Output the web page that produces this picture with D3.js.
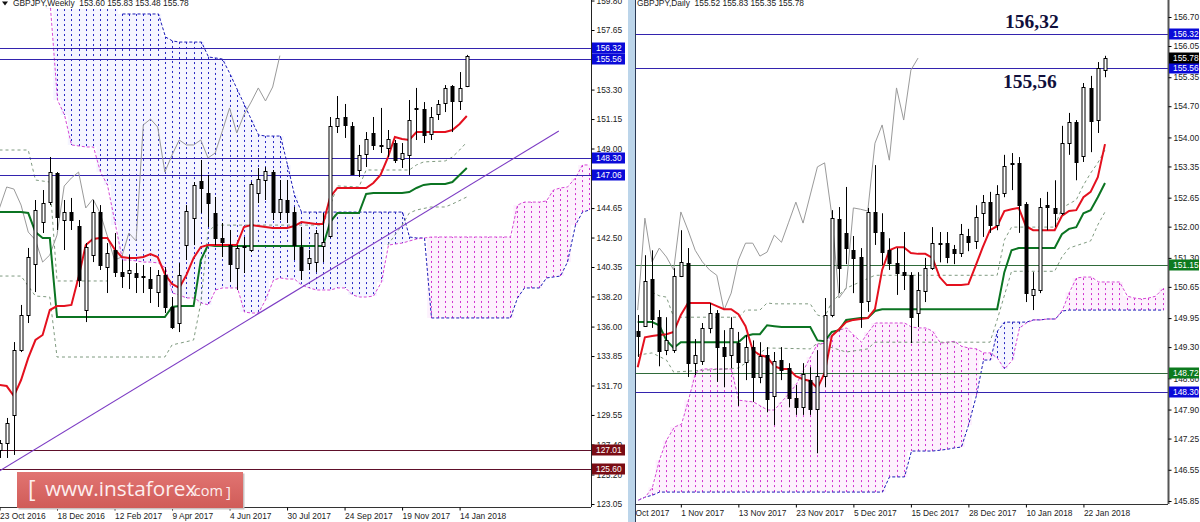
<!DOCTYPE html>
<html>
<head>
<meta charset="utf-8">
<script src="https://cdn.jsdelivr.net/npm/d3@7"></script>
<style>
  html, body { margin: 0; padding: 0; background: #fff; overflow: hidden; }
  svg { display: block; }
  text { font-family: "Liberation Sans", sans-serif; }
</style>
</head>
<body>
<div class="chart"></div>
<script>
// weekly candles
let weeklyOpen = [127.01,127.50,129.55,134.29,136.85,140.57,143.63,145.09,147.21,143.78,
  144.36,143.34,137.21,141.23,144.36,140.35,141.59,139.98,139.91,139.91,
  139.69,139.47,138.52,139.77,137.43,136.26,141.95,143.93,146.63,145.75,
  144.29,142.47,141.95,140.28,141.81,141.59,145.75,146.70,147.28,144.36,
  145.24,144.36,141.81,140.64,140.71,141.88,142.61,150.64,151.30,150.64,
  147.43,148.60,150.13,149.22,149.04,149.40,148.23,148.53,151.88,151.88,
  150.06,151.52,152.32,153.56,152.47,153.60];
let weeklyHigh = [127.72,129.33,134.87,137.58,141.74,145.24,145.97,148.38,147.28,145.24,
  145.39,143.78,142.10,145.24,144.87,142.10,142.83,140.86,141.23,140.64,
  140.50,140.35,140.13,140.35,138.16,140.64,144.87,146.55,148.16,147.07,
  145.46,143.56,143.05,141.95,142.54,146.55,147.58,147.65,147.43,146.70,
  146.70,144.73,143.27,141.59,143.05,144.29,151.30,152.83,152.25,150.93,
  149.26,150.20,151.30,151.96,150.35,149.62,149.40,152.54,153.42,152.39,
  152.03,152.54,153.63,153.63,154.58,155.83];
let weeklyLow = [126.41,126.41,126.63,134.14,136.26,138.52,142.83,144.87,143.05,141.59,
  143.05,138.89,136.33,140.71,140.13,138.45,139.62,138.82,138.74,138.45,
  138.45,137.72,137.43,136.99,135.82,135.60,140.86,141.95,144.29,143.27,
  141.95,141.08,139.25,138.67,139.91,141.44,145.02,145.24,143.78,143.78,
  143.56,140.86,139.40,140.13,139.98,140.71,142.47,150.13,149.77,147.07,
  146.92,147.65,148.89,148.67,148.38,147.94,147.58,147.07,149.62,149.40,
  149.62,151.08,151.66,150.20,151.81,153.48];
let weeklyClose = [127.50,128.96,134.29,136.85,141.08,144.51,145.02,147.28,144.00,144.36,
  143.78,139.40,141.81,144.36,140.50,141.37,139.98,139.69,140.13,139.62,
  139.65,138.82,139.77,137.43,135.97,139.77,144.44,146.33,146.12,145.02,
  142.47,142.17,140.57,141.74,141.88,146.41,146.77,147.36,144.36,145.31,
  144.36,141.95,140.13,141.01,142.83,142.17,150.64,151.23,150.72,147.14,
  148.53,149.69,149.26,149.15,149.69,148.16,148.67,151.08,151.96,149.99,
  151.30,152.25,153.42,152.47,153.42,155.78];

// weekly ichimoku
let weeklyTenkan = [131.74,131.66,130.93,132.10,133.71,135.02,135.39,137.21,137.50,137.50,
  137.58,139.62,141.95,142.39,142.47,142.47,141.66,141.08,141.01,141.01,
  141.08,141.30,141.08,139.84,139.11,138.82,139.77,141.01,141.81,141.95,
  141.95,141.95,141.95,141.95,143.27,143.41,143.34,143.27,143.20,143.20,
  143.20,143.34,143.63,143.56,143.49,143.49,145.46,146.12,146.12,146.12,
  146.12,146.12,146.48,147.07,148.31,149.84,149.69,149.62,150.20,150.20,
  150.20,150.20,150.20,150.35,150.79,151.37];
let weeklyKijun = [144.36,144.36,144.36,144.36,144.29,142.90,142.47,142.47,136.70,136.70,
  136.70,136.70,136.70,136.70,136.70,136.70,136.70,136.70,136.70,136.70,
  136.70,136.70,136.70,136.70,137.43,137.50,137.50,137.50,140.86,141.95,
  141.88,141.88,141.88,141.88,141.88,141.88,141.88,141.88,141.88,141.88,
  141.88,141.88,141.88,141.88,141.88,141.88,143.63,144.29,144.29,144.29,
  144.29,145.68,145.75,145.75,145.75,145.75,145.75,145.82,146.12,146.34,
  146.41,146.41,146.41,146.55,147.07,147.58];
let weeklyChikou = [144.66,146.19,146.04,144.87,142.90,142.32,140.71,141.23,142.68,146.26,
  146.85,147.28,144.66,145.31,144.29,142.61,140.86,141.08,142.83,142.25,
  150.72,151.15,150.57,147.28,148.53,149.62,149.26,149.26,149.62,148.31,
  148.67,150.28,151.96,150.13,151.45,152.39,153.42,152.47,153.49,155.78];
let weeklyCloudStart = 7;
let weeklySenkouA = [159.18,159.18,159.18,159.18,159.18,159.18,159.18,159.18,159.18,159.18,
  158.82,158.82,158.82,158.82,158.82,158.82,157.14,156.85,156.77,156.77,156.77,156.77,
  155.68,155.61,155.53,154.37,153.27,152.18,151.08,149.99,149.91,149.91,149.91,147.80,145.60,
  144.36,144.36,144.36,144.36,144.36,144.36,144.36,144.36,144.36,144.36,144.36,144.36,144.36,144.36,144.36,
  142.54,142.47,142.47,
  136.63,136.63,136.63,136.63,136.63,136.63,136.63,136.63,136.63,136.63,136.63,136.63,
  138.09,138.82,138.82,138.82,139.55,139.62,139.69,140.71,143.41,144.36,144.51];
let weeklySenkouB = [159.26,152.54,151.45,149.26,149.18,149.11,149.11,147.28,146.33,143.41,
  140.86,140.86,140.79,140.71,140.71,140.64,140.28,138.45,138.31,138.09,138.09,137.72,137.58,
  138.67,138.82,138.82,138.82,137.06,136.99,136.99,137.94,139.40,139.55,139.47,139.47,139.04,
  138.82,138.67,138.67,138.67,138.82,138.82,138.31,138.16,138.16,138.23,139.25,141.95,142.03,142.10,
  142.25,142.39,142.47,
  142.54,142.54,142.54,142.54,142.54,142.54,142.54,142.54,142.54,142.54,142.54,142.54,
  144.87,145.09,145.09,145.09,145.17,145.97,146.12,146.19,146.85,147.80,147.80];

// thin dashed lines, breakpoints only
let weeklyGuide1Idx = [0,4,5,7,8,15];
let weeklyGuide1Val = [148.89,148.89,146.70,146.55,139.33,139.33];
let weeklyGuide2Idx = [0,3,5,7,8,23,24,27,28,29,30,45,47,50,51,57,58,59,62,63,64,65];
let weeklyGuide2Val = [139.69,139.69,138.23,138.16,133.78,133.78,134.66,135.02,137.72,142.90,143.41,143.41,
  146.27,146.19,147.43,147.43,147.80,148.02,148.09,148.38,148.89,149.47];
let weeklyGuide3Idx = [54,56,57,58,60,62,63,65];
let weeklyGuide3Val = [141.95,143.41,144.29,144.51,144.73,144.73,144.95,145.46];

let weeklyTrendIdx = [0,77.8];
let weeklyTrendVal = [125.46,150.28];

let weeklyLevels = [156.32,155.56,148.30,147.06,127.01,125.60];
let weeklyLevelKinds = ["blue","blue","blue","blue","red","red"];
let weeklyYTicks = [159.80,157.65,153.30,151.15,149.00,144.65,142.50,140.35,138.20,136.00,133.85,131.70,129.55,127.40,125.20,123.05];
let weeklyXTicks = [0,8,16,24,32,40,48,56,64];
let weeklyXLabels = ["23 Oct 2016","18 Dec 2016","12 Feb 2017","9 Apr 2017","4 Jun 2017","30 Jul 2017","24 Sep 2017","19 Nov 2017","14 Jan 2018"];

// daily candles
let dailyOpen = [149.66,149.77,150.83,149.97,149.23,149.23,150.89,151.18,148.94,148.99,
  149.73,150.06,149.30,149.12,149.39,148.96,149.30,148.63,149.12,148.20,
  149.01,148.83,148.16,147.95,148.56,147.91,148.65,150.02,152.17,151.86,
  151.47,151.32,150.33,152.33,151.88,151.47,151.18,150.98,150.91,150.06,
  150.56,151.07,151.61,151.63,151.50,151.41,151.79,151.68,152.30,152.55,
  152.04,152.75,153.40,153.43,152.51,150.47,150.58,152.48,152.42,152.30,
  153.87,154.34,153.58,155.11,154.39,155.52];
let dailyHigh = [150.02,151.36,151.47,150.13,149.97,151.07,151.92,151.52,149.48,149.84,
  150.29,150.13,149.68,149.97,149.64,149.57,149.45,149.41,149.30,149.19,
  149.30,148.94,148.45,148.94,148.85,149.23,150.40,152.37,152.44,152.89,
  151.79,151.52,152.42,153.38,152.30,151.74,151.52,151.88,150.98,150.98,
  151.30,151.99,151.88,151.88,151.59,152.06,151.95,152.48,152.71,152.78,
  152.93,153.61,153.65,153.56,152.55,150.98,152.64,152.78,153.04,154.26,
  154.55,154.39,155.22,155.38,155.69,155.83];
let dailyLow = [149.08,149.75,149.73,148.87,149.12,149.17,150.87,148.63,148.67,148.90,
  149.61,148.52,148.40,148.83,147.98,148.56,148.07,148.49,147.84,147.55,
  148.56,147.95,147.78,147.78,147.78,146.92,148.40,149.97,150.51,151.16,
  150.51,149.73,150.09,151.59,151.14,151.03,150.47,150.58,149.39,149.75,
  150.31,151.03,151.20,151.18,151.16,151.32,151.45,151.50,151.77,151.86,
  151.92,152.66,152.82,151.86,150.31,150.13,150.51,151.92,151.99,152.26,
  153.61,153.04,153.45,153.67,154.10,155.35];
let dailyClose = [149.55,150.78,149.93,149.21,149.45,150.89,151.20,148.94,149.12,149.73,
  150.06,149.30,149.10,149.73,148.96,149.30,148.63,149.10,148.13,148.99,
  148.78,148.16,147.95,148.69,147.91,148.65,150.02,152.19,151.07,151.52,
  151.30,150.31,152.33,151.88,151.43,151.18,150.96,150.91,149.97,150.58,
  151.07,151.63,151.63,151.32,151.41,151.83,151.65,152.21,152.55,152.04,
  152.73,153.36,153.43,152.48,150.51,150.60,152.44,152.44,152.30,153.87,
  154.34,153.45,155.13,154.37,155.56,155.78];

// daily ichimoku
let dailyTenkan = [148.85,149.52,149.55,149.57,149.59,149.64,150.02,150.29,150.29,150.29,
  150.29,150.22,150.15,150.15,150.04,149.77,149.23,149.12,149.08,148.87,
  148.81,148.81,148.65,148.58,148.54,148.38,148.72,149.55,149.70,149.86,
  149.91,149.93,149.95,150.15,151.03,151.47,151.54,151.54,151.41,151.39,
  151.39,151.30,150.87,150.69,150.69,150.69,150.71,151.12,151.54,151.92,
  152.01,152.35,152.39,152.42,152.01,151.92,151.92,151.92,151.92,152.24,
  152.35,152.37,152.66,152.78,153.11,153.85];
let dailyKijun = [149.86,149.86,149.86,149.79,149.45,149.28,149.41,149.41,149.41,149.41,
  149.41,149.41,149.41,149.41,149.41,149.55,149.59,149.59,149.79,149.77,
  149.75,149.75,149.75,149.75,149.75,149.45,149.43,149.64,149.68,149.91,
  149.93,149.95,149.95,150.11,150.15,150.15,150.15,150.15,150.15,150.15,
  150.15,150.15,150.15,150.15,150.15,150.15,150.15,150.15,150.15,150.15,
  150.15,150.98,151.47,151.52,151.52,151.52,151.52,151.52,151.52,151.83,
  151.95,151.99,152.30,152.37,152.66,152.98];
let dailyChikou = [150.13,152.19,151.21,151.52,151.32,151.03,152.33,151.92,151.47,151.21,
  151.03,150.91,150.13,150.51,151.25,151.63,151.63,151.34,151.43,151.81,
  151.65,152.10,152.55,152.08,152.71,153.34,153.43,152.26,150.40,150.62,
  152.42,152.39,152.35,153.87,154.28,153.49,155.11,154.39,155.51,155.78];
let dailyCloudStart = 0;
let dailySenkouA = [145.87,145.94,145.98,146.05,146.05,146.05,146.05,146.05,146.05,146.05,
  146.05,146.05,146.05,146.05,146.05,146.05,146.05,146.05,146.05,146.05,
  146.05,146.05,146.05,146.05,146.05,146.05,146.05,146.05,146.05,146.05,
  146.05,146.05,146.05,146.05,146.05,146.39,146.39,146.39,146.97,146.97,
  146.97,146.97,146.99,147.01,147.04,147.06,147.55,148.22,149.01,149.01,
  149.66,149.86,149.86,149.86,149.86,149.91,149.91,149.93,149.93,150.11,
  150.13,150.13,150.13,150.13,150.13,150.13,150.13,150.13,150.13,150.13,
  150.13,150.13,150.13,150.13];
let dailySenkouB = [145.87,145.94,146.16,146.77,147.21,147.51,147.57,148.11,148.72,148.81,
  148.81,148.81,148.81,148.81,148.11,148.09,148.07,147.98,147.89,147.89,
  148.07,148.27,148.47,148.78,149.08,149.37,149.39,149.59,149.68,149.73,
  149.57,149.41,149.64,149.84,149.84,149.84,149.84,149.84,149.75,149.73,
  149.73,149.66,149.39,149.41,149.43,149.32,149.28,149.26,149.17,149.17,
  149.05,148.81,149.01,149.73,149.84,149.91,149.91,149.93,149.93,150.13,
  150.53,150.85,150.87,150.87,150.76,150.76,150.76,150.76,150.44,150.40,
  150.38,150.40,150.44,150.62];

let dailyGuide1Idx = [2,3,4,5,14,15,17,18,19,24,25,26,27,29,33,50,51,52,58,59,61,62,63,64,65];
let dailyGuide1Val = [150.53,150.45,150.42,149.97,149.97,150.13,150.13,150.29,150.27,150.27,150.02,149.97,
  150.31,150.62,150.91,150.91,151.70,151.99,151.99,152.42,152.60,152.93,153.20,153.43,153.72];
let dailyGuide2Idx = [0,2,4,5,14,18,24,25,29,32,33,49,50,52,58,59,60,63,64,65];
let dailyGuide2Val = [149.12,149.17,149.01,148.74,148.83,149.28,149.26,149.39,149.19,149.26,149.41,149.41,
  149.91,151.00,151.00,151.32,151.52,151.68,152.04,152.33];

let dailyLevels = [156.32,155.56,151.15,148.72,148.30];
let dailyLevelKinds = ["blue","blue","green","green","blue"];
let dailyYTicks = [156.70,156.05,155.35,154.70,154.00,153.35,152.65,152.00,151.30,150.65,149.95,149.30,148.60,147.90,147.25,146.55,145.85];
let dailyXTicks = [-2,6,14,22,30,38,46,54,62];
let dailyXLabels = ["23 Oct 2017","1 Nov 2017","13 Nov 2017","23 Nov 2017","5 Dec 2017","15 Dec 2017","28 Dec 2017","10 Jan 2018","22 Jan 2018"];

let levelColors = { blue: "#3323ae", red: "#5e0f2a", green: "#2f6b3a" };
let boxColors = { blue: "#0a0ad8", red: "#7a0c14", green: "#0c7a1e" };

let svgW = 1200;
let svgH = 522;

let svg = d3.select(".chart").append("svg")
  .attr("width", svgW)
  .attr("height", svgH);

svg.append("rect").attr("width", svgW).attr("height", svgH).attr("fill", "#fff");

// strip between the two charts
svg.append("rect").attr("x", 628).attr("y", 0).attr("width", 7).attr("height", svgH).attr("fill", "#bcd5ea");

function drawPanel(p) {
  let clipId = "clip-" + p.name;
  svg.append("clipPath").attr("id", clipId).append("rect")
    .attr("x", p.left).attr("y", 0).attr("width", p.right - p.left).attr("height", p.bottom);

  let axisClipId = "axis-clip-" + p.name;
  svg.append("clipPath").attr("id", axisClipId).append("rect")
    .attr("x", p.left).attr("y", p.bottom - 1).attr("width", p.right - p.left).attr("height", svgH - p.bottom + 1);

  let x = d3.scaleLinear().domain(p.xDomain).range(p.xRange);
  let y = d3.scaleLinear().domain(p.yDomain).range(p.yRange);
  let px = i => Math.round(x(i)) + 0.5;

  let plot = svg.append("g").attr("clip-path", `url(#${clipId})`);

  // cloud: pale tint, then one dotted vertical per bar
  let cloud = p.senkouA.map((a, k) => ({ i: p.cloudStart + k, a: a, b: p.senkouB[k] }));
  plot.append("g").selectAll("line").data(cloud).enter().append("line")
    .attr("x1", d => x(d.i)).attr("x2", d => x(d.i))
    .attr("y1", d => y(d.a)).attr("y2", d => y(d.b))
    .attr("stroke", d => d.a >= d.b ? "#f5f5ff" : "#fdf1fd")
    .attr("stroke-width", 7.3);
  plot.append("g").selectAll("line").data(cloud).enter().append("line")
    .attr("x1", d => px(d.i)).attr("x2", d => px(d.i))
    .attr("y1", d => y(d.a)).attr("y2", d => y(d.b))
    .attr("stroke", d => d.a >= d.b ? "#2828c4" : "#d032d0")
    .attr("stroke-width", 1)
    .attr("stroke-dasharray", "2,3");

  let cloudLine = d3.line().x(d => px(d.i));
  plot.append("path")
    .attr("d", cloudLine.y(d => y(d.a))(cloud.filter(d => d.i >= p.senkouAFrom)))
    .attr("fill", "none").attr("stroke", "#1c1cb8").attr("stroke-dasharray", "3,2");
  plot.append("path")
    .attr("d", cloudLine.y(d => y(d.b))(cloud))
    .attr("fill", "none").attr("stroke", "#d648d6").attr("stroke-dasharray", "3,2");

  // thin dashed lines
  p.guides.forEach(g => {
    let pts = g[0].map((v, k) => [x(v), y(g[1][k])]);
    plot.append("path").attr("d", d3.line()(pts))
      .attr("fill", "none").attr("stroke", "#7f9a80").attr("stroke-dasharray", "3,3");
  });

  // price levels
  plot.append("g").selectAll("line").data(p.levels).enter().append("line")
    .attr("x1", p.left).attr("x2", p.right)
    .attr("y1", d => Math.round(y(d)) + 0.5).attr("y2", d => Math.round(y(d)) + 0.5)
    .attr("stroke", (d, k) => levelColors[p.levelKinds[k]])
    .attr("stroke-width", 1);

  if (p.trend) {
    plot.append("line")
      .attr("x1", x(p.trend[0][0])).attr("y1", y(p.trend[1][0]))
      .attr("x2", x(p.trend[0][1])).attr("y2", y(p.trend[1][1]))
      .attr("stroke", "#7d3cc4").attr("stroke-width", 1.1);
  }

  // ichimoku lines
  let line = d3.line().x((d, i) => x(i)).y(d => y(d));
  plot.append("path").attr("d", line(p.chikou)).attr("fill", "none").attr("stroke", "#9a9a9a").attr("stroke-width", 1);
  plot.append("path").attr("d", line(p.kijun)).attr("fill", "none").attr("stroke", "#0b7422").attr("stroke-width", 2);
  plot.append("path").attr("d", line(p.tenkan)).attr("fill", "none").attr("stroke", "#e4101e").attr("stroke-width", 2);

  // candles
  let bars = p.open.map((o, i) => ({ i: i, o: o, h: p.high[i], l: p.low[i], c: p.close[i] }));
  let candles = plot.append("g").selectAll("g").data(bars).enter().append("g");
  candles.append("line")
    .attr("x1", d => px(d.i)).attr("x2", d => px(d.i))
    .attr("y1", d => y(d.h)).attr("y2", d => y(d.l))
    .attr("stroke", "#000").attr("stroke-width", 1);
  candles.append("rect")
    .attr("x", d => px(d.i) - 1.5)
    .attr("width", 3)
    .attr("y", d => Math.round(y(Math.max(d.o, d.c))) + 0.5)
    .attr("height", d => Math.max(1, Math.round(Math.abs(y(d.o) - y(d.c)))))
    .attr("fill", d => d.c >= d.o ? "#fff" : "#000")
    .attr("stroke", "#000").attr("stroke-width", 1);

  // axes
  let yAxis = d3.axisRight(y).tickValues(p.yTicks).tickFormat(d3.format(".2f")).tickSize(3).tickPadding(2);
  let yG = svg.append("g").attr("transform", `translate(${p.right + 0.5},0)`).call(yAxis);
  yG.select(".domain").attr("stroke", p.axisColor).attr("stroke-width", p.axisWidth).attr("d", `M0,0V${p.bottom}`);
  yG.selectAll("text").attr("font-size", 8.4).attr("fill", "#222").style("font-family", '"Liberation Sans", sans-serif');

  let xAxis = d3.axisBottom(x).tickValues(p.xTicks).tickFormat((d, k) => p.xLabels[k]).tickSize(3).tickPadding(3);
  let xG = svg.append("g").attr("clip-path", `url(#${axisClipId})`)
    .append("g").attr("transform", `translate(0,${p.bottom + 0.5})`).call(xAxis);
  xG.select(".domain").attr("stroke", "#333").attr("d", `M${p.left},0H${p.right}`);
  xG.selectAll("text").attr("font-size", 8.4).attr("fill", "#222").attr("text-anchor", "start")
    .style("font-family", '"Liberation Sans", sans-serif');

  // level boxes on the price axis
  let boxes = p.levels.map((v, k) => ({ v: v, fill: boxColors[p.levelKinds[k]] }));
  if (p.lastPrice) boxes.push({ v: p.lastPrice, fill: "#000" });
  let boxG = svg.append("g").selectAll("g").data(boxes).enter().append("g")
    .attr("transform", d => `translate(${p.right + 1},${Math.round(y(d.v))})`);
  boxG.append("rect").attr("x", 0).attr("y", -5.5).attr("width", p.boxW).attr("height", 11).attr("fill", d => d.fill);
  boxG.append("text").attr("x", 4).attr("y", 3).attr("font-size", 8.4).attr("fill", "#fff").text(d => d.v.toFixed(2));

  // header
  svg.append("text").attr("x", p.titleX).attr("y", 5.5).attr("font-size", 8.4).attr("fill", "#222")
    .attr("xml:space", "preserve").text(p.title);
}

drawPanel({
  name: "weekly", left: 0, right: 591, bottom: 507,
  xDomain: [0, 64], xRange: [-0.5, 459.6],
  yDomain: [123.05, 157.65], yRange: [504, 30],
  open: weeklyOpen, high: weeklyHigh, low: weeklyLow, close: weeklyClose,
  tenkan: weeklyTenkan, kijun: weeklyKijun, chikou: weeklyChikou,
  cloudStart: weeklyCloudStart, senkouA: weeklySenkouA, senkouB: weeklySenkouB, senkouAFrom: 17,
  guides: [[weeklyGuide1Idx, weeklyGuide1Val], [weeklyGuide2Idx, weeklyGuide2Val], [weeklyGuide3Idx, weeklyGuide3Val]],
  trend: [weeklyTrendIdx, weeklyTrendVal],
  levels: weeklyLevels, levelKinds: weeklyLevelKinds,
  yTicks: weeklyYTicks, xTicks: weeklyXTicks, xLabels: weeklyXLabels,
  axisColor: "#222", axisWidth: 1, boxW: 33,
  titleX: 13, title: "GBPJPY,Weekly  153.60 155.83 153.48 155.78"
});

drawPanel({
  name: "daily", left: 636, right: 1168, bottom: 504,
  xDomain: [0, 65], xRange: [637.7, 1105],
  yDomain: [145.85, 156.70], yRange: [501, 17],
  open: dailyOpen, high: dailyHigh, low: dailyLow, close: dailyClose,
  tenkan: dailyTenkan, kijun: dailyKijun, chikou: dailyChikou,
  cloudStart: dailyCloudStart, senkouA: dailySenkouA, senkouB: dailySenkouB, senkouAFrom: 0,
  guides: [[dailyGuide1Idx, dailyGuide1Val], [dailyGuide2Idx, dailyGuide2Val]],
  levels: dailyLevels, levelKinds: dailyLevelKinds, lastPrice: 155.78,
  yTicks: dailyYTicks, xTicks: dailyXTicks, xLabels: dailyXLabels,
  axisColor: "#555", axisWidth: 2, boxW: 30,
  titleX: 637, title: "GBPJPY,Daily  155.52 155.83 155.35 155.78"
});

// left border of the daily chart
svg.append("line").attr("x1", 635.5).attr("x2", 635.5).attr("y1", 0).attr("y2", svgH).attr("stroke", "#2a3a55").attr("stroke-width", 1);

// menu triangle of the weekly header
svg.append("path").attr("d", "M2,1.5H8L5,5.5Z").attr("fill", "#111");

// typed level notes
svg.append("text").attr("x", 1005).attr("y", 28).text("156,32")
  .attr("font-size", 19.5).attr("font-weight", "bold").attr("fill", "#10103c").style("font-family", '"Liberation Serif", serif');
svg.append("text").attr("x", 1003).attr("y", 88).text("155,56")
  .attr("font-size", 19.5).attr("font-weight", "bold").attr("fill", "#10103c").style("font-family", '"Liberation Serif", serif');

// watermark
let defs = svg.append("defs");
let grad = defs.append("linearGradient").attr("id", "mark").attr("x1", 0).attr("x2", 0).attr("y1", 0).attr("y2", 1);
grad.append("stop").attr("offset", "0%").attr("stop-color", "#e17472");
grad.append("stop").attr("offset", "100%").attr("stop-color", "#d05c58");
svg.append("rect").attr("x", 18.5).attr("y", 473.5).attr("width", 226).attr("height", 36).attr("fill", "#c9c3c3");
svg.append("rect").attr("x", 17).attr("y", 472).attr("width", 226).attr("height", 36).attr("fill", "url(#mark)");
let mark = svg.append("g").attr("fill", "#fdeeee");
let markText = (tx, ty, size, s) => mark.append("text").attr("x", tx).attr("y", ty).attr("font-size", size)
  .style("font-family", '"Open Sans", sans-serif').text(s);
markText(28, 497, 23, "[");
markText(45, 496, 20.8, "www.instaforex");
markText(190, 496, 14.5, ".com");
markText(226, 497, 15, "]");
</script>
</body>
</html>
